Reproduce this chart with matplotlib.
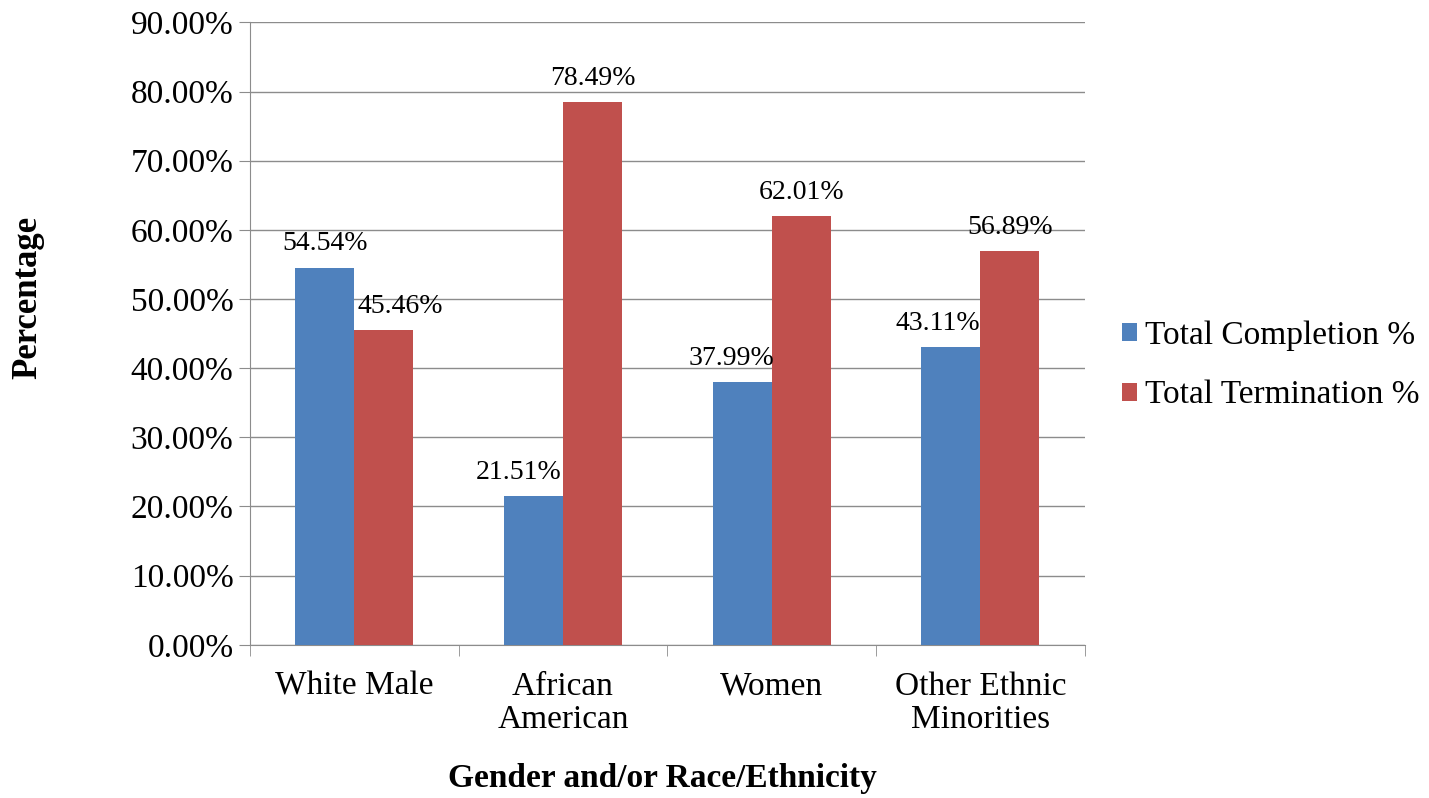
import numpy as np
import matplotlib.pyplot as plt

categories = ['White Male', 'African\nAmerican', 'Women', 'Other Ethnic\nMinorities']
completion = [54.54, 21.51, 37.99, 43.11]
termination = [45.46, 78.49, 62.01, 56.89]
series_names = ['Total Completion %', 'Total Termination %']
colors = ['#4F81BD', '#C0504D']

# sideways nudge of the value labels (points), like the Excel original
nudge_completion = [0, -11, -8, -9]
nudge_termination = [12, 0, 0, 0]

plt.rcParams['font.family'] = ['Liberation Serif', 'DejaVu Serif']

fig = plt.figure(figsize=(14.29, 7.98), dpi=100)
ax = fig.add_axes([0.175, 0.192, 0.584, 0.78])

x = np.arange(len(categories))
w = 0.283
b1 = ax.bar(x - w / 2, completion, w, color=colors[0], label=series_names[0], zorder=3)
b2 = ax.bar(x + w / 2, termination, w, color=colors[1], label=series_names[1], zorder=3)

for bars, vals, nudges in ((b1, completion, nudge_completion),
                           (b2, termination, nudge_termination)):
    for bar, v, dx in zip(bars, vals, nudges):
        ax.annotate(f'{v:.2f}%', (bar.get_x() + bar.get_width() / 2, v),
                    textcoords='offset points', xytext=(dx, 8), ha='center',
                    va='bottom', fontsize=20)

ax.set_xlim(-0.5, len(categories) - 0.5)
ax.set_ylim(0, 90)
ax.set_yticks(np.arange(0, 91, 10))
ax.set_yticklabels([f'{t:.2f}%' for t in np.arange(0, 91, 10)], fontsize=24)
ax.yaxis.grid(True, color='#8c8c8c', linewidth=1, zorder=0)

# category labels centred, tick marks between groups
ax.set_xticks(x)
ax.set_xticklabels(categories, fontsize=24, linespacing=1.12)
ax.tick_params(axis='x', length=0, pad=19)
ax.set_xticks(np.arange(-0.5, len(categories)), minor=True)
ax.tick_params(axis='x', which='minor', length=8, color='#8c8c8c')
ax.tick_params(axis='y', length=8, color='#8c8c8c', pad=4)

for s in ['top', 'right']:
    ax.spines[s].set_visible(False)
ax.spines['left'].set_color('#8c8c8c')
ax.spines['bottom'].set_color('#8c8c8c')

fig.text(28 / 1429, 1 - 297 / 798, 'Percentage', rotation=90, fontsize=25,
         fontweight='bold', ha='center', va='center')
fig.text(662 / 1429, 1 - 778 / 798, 'Gender and/or Race/Ethnicity', fontsize=24,
         fontweight='bold', ha='center', va='center')

ax.legend(loc='center left', bbox_to_anchor=(1.029, 0.449), frameon=False, fontsize=24,
          handlelength=0.45, handleheight=0.45, handletextpad=0.25, labelspacing=0.88,
          borderaxespad=0)

fig.savefig('out.png', dpi=100)
